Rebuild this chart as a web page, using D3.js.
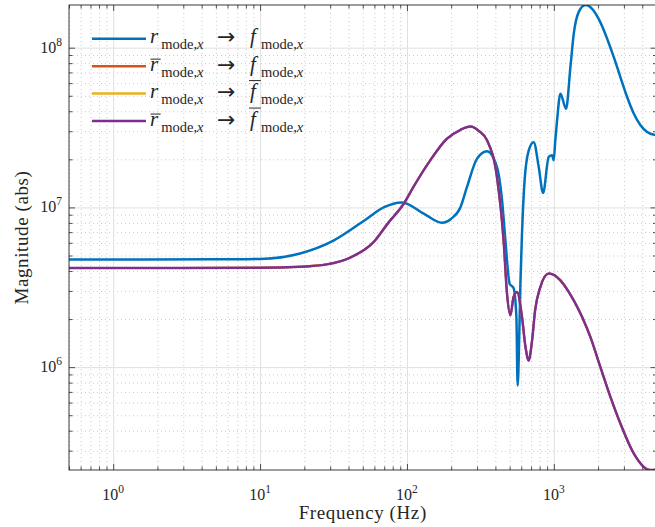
<!DOCTYPE html>
<html>
<head>
    <title>Magnitude plot</title>
    <style>
        body { margin: 0; background: #fff; }
        text { font-family: "Liberation Serif", "DejaVu Serif", serif; fill: #262626; }
    </style>
    <script src="https://d3js.org/d3.v7.min.js"></script>
</head>
<body>
<script type="text/javascript">

    // r -> f (blue)
    var freqBlue = [0.5, 5, 10, 18.7, 31.6, 53.4, 69.3, 92.5, 130, 173, 200, 231, 256, 300, 351, 410, 444, 468, 500, 532, 556, 567, 582, 592, 607, 630, 674, 729, 789, 845, 923, 973, 998, 1023, 1052, 1109, 1211, 1297, 1366, 1476, 1641, 1823, 2023, 2559, 2838, 3155, 3499, 3890, 4315, 5000];
    var magBlue = [4.72e6, 4.73e6, 4.76e6, 5.15e6, 6.2e6, 8.5e6, 1.0e7, 1.075e7, 9.14e6, 8.02e6, 8.5e6, 1.0e7, 1.34e7, 2.02e7, 2.25e7, 1.79e7, 1.11e7, 6.2e6, 3.33e6, 3.13e6, 2.06e6, 7.67e5, 1.62e6, 3.33e6, 6.84e6, 1.41e7, 2.27e7, 2.56e7, 1.79e7, 1.23e7, 2.07e7, 2.12e7, 1.97e7, 2.63e7, 3.51e7, 5.15e7, 4.15e7, 7.57e7, 1.22e8, 1.67e8, 1.85e8, 1.75e8, 1.51e8, 8.73e7, 6.55e7, 4.91e7, 3.87e7, 3.27e7, 2.97e7, 2.83e7];

    // rbar -> fbar (purple)
    var freqPurple = [0.5, 10, 18.7, 28.5, 41.1, 59, 75, 94.8, 111, 144, 187, 230, 270, 310, 351, 410, 455, 480, 506, 532, 562, 607, 641, 674, 711, 745, 809, 923, 1052, 1366, 1775, 2075, 2431, 2838, 3508, 3993, 4406, 4700, 5000];
    var magPurple = [4.17e6, 4.19e6, 4.25e6, 4.4e6, 4.85e6, 6.04e6, 8.06e6, 1.05e7, 1.35e7, 1.97e7, 2.69e7, 3.05e7, 3.21e7, 3.0e7, 2.63e7, 1.55e7, 6.2e6, 2.88e6, 2.11e6, 2.75e6, 2.95e6, 2.06e6, 1.34e6, 1.10e6, 1.47e6, 2.26e6, 3.17e6, 3.85e6, 3.66e6, 2.62e6, 1.54e6, 1.0e6, 6.49e5, 4.44e5, 2.87e5, 2.43e5, 2.28e5, 2.27e5, 2.28e5];

    // the two cross terms sit exactly under the purple curve
    var magOrange = magPurple;
    var magYellow = magPurple;

    var xTickValues = [1, 10, 100, 1000];
    var xTickExp = ['0', '1', '2', '3'];
    var yTickValues = [1e6, 1e7, 1e8];
    var yTickExp = ['6', '7', '8'];

    var legendBars = [[false, false], [true, false], [false, true], [true, true]];

    var series = [
        {freq: freqBlue, mag: magBlue, color: '#0072bd', w: 2.5},
        {freq: freqPurple, mag: magOrange, color: '#d95319', w: 2},
        {freq: freqPurple, mag: magYellow, color: '#edb120', w: 2},
        {freq: freqPurple, mag: magPurple, color: '#7e2f8e', w: 2.5}
    ];

    var W = 655, H = 527;
    var plotL = 69, plotR = 656.5, plotT = 5, plotB = 470;

    var x = d3.scaleLog().domain([0.5, 5000]).range([plotL, plotR]);
    var y = d3.scaleLog().domain([2.27e5, 1.85e8]).range([plotB, plotT]);

    var svg = d3.select('body')
                    .append('svg')
                    .attr('width', W)
                    .attr('height', H);

    svg.append('clipPath').attr('id', 'clip')
        .append('rect')
        .attr('x', plotL).attr('y', plotT)
        .attr('width', plotR - plotL).attr('height', plotB - plotT);

    var xMinor = x.ticks().filter(function(v) { return xTickValues.indexOf(v) < 0; });
    var yMinor = y.ticks().filter(function(v) { return yTickValues.indexOf(v) < 0; });

    // minor grid (dotted) then major grid
    var grid = svg.append('g');
    grid.append('g')
        .attr('class', 'minor')
        .attr('transform', 'translate(0,' + plotB + ')')
        .call(d3.axisBottom(x).tickValues(xMinor).tickSize(-(plotB - plotT)).tickFormat(''));
    grid.append('g')
        .attr('class', 'minor')
        .attr('transform', 'translate(' + plotL + ',0)')
        .call(d3.axisLeft(y).tickValues(yMinor).tickSize(-(plotR - plotL)).tickFormat(''));
    grid.append('g')
        .attr('class', 'major')
        .attr('transform', 'translate(0,' + plotB + ')')
        .call(d3.axisBottom(x).tickValues(xTickValues).tickSize(-(plotB - plotT)).tickFormat(''));
    grid.append('g')
        .attr('class', 'major')
        .attr('transform', 'translate(' + plotL + ',0)')
        .call(d3.axisLeft(y).tickValues(yTickValues).tickSize(-(plotR - plotL)).tickFormat(''));
    grid.selectAll('.domain').remove();
    grid.selectAll('.minor line').attr('stroke', '#bcbcbc').attr('stroke-width', 0.8).attr('stroke-dasharray', '1,3');
    grid.selectAll('.major line').attr('stroke', '#e0e0e0').attr('stroke-width', 1);

    // curves
    var line = d3.line()
        .x(function(d) { return x(d[0]); })
        .y(function(d) { return y(d[1]); })
        .curve(d3.curveMonotoneX);

    svg.append('g').attr('clip-path', 'url(#clip)')
        .selectAll('path')
        .data(series)
        .enter()
        .append('path')
        .attr('d', function(s) { return line(d3.zip(s.freq, s.mag)); })
        .attr('fill', 'none')
        .attr('stroke', function(s) { return s.color; })
        .attr('stroke-width', function(s) { return s.w; })
        .attr('stroke-linejoin', 'round');

    // ticks inward on all four sides
    function ticks(axis, tr, vals, len) {
        var g = svg.append('g').attr('transform', tr)
            .call(axis.tickValues(vals).tickSize(len).tickSizeOuter(0).tickFormat(''));
        g.selectAll('line').attr('stroke', '#262626').attr('stroke-width', 0.8);
        g.select('.domain').remove();
    }
    ticks(d3.axisBottom(x), 'translate(0,' + plotB + ')', xTickValues, -6);
    ticks(d3.axisBottom(x), 'translate(0,' + plotB + ')', xMinor, -3.5);
    ticks(d3.axisTop(x), 'translate(0,' + plotT + ')', xTickValues, -6);
    ticks(d3.axisTop(x), 'translate(0,' + plotT + ')', xMinor, -3.5);
    ticks(d3.axisLeft(y), 'translate(' + plotL + ',0)', yTickValues, -6);
    ticks(d3.axisLeft(y), 'translate(' + plotL + ',0)', yMinor, -3.5);
    ticks(d3.axisRight(y), 'translate(' + plotR + ',0)', yTickValues, -6);
    ticks(d3.axisRight(y), 'translate(' + plotR + ',0)', yMinor, -3.5);

    svg.append('rect')
        .attr('x', plotL).attr('y', plotT)
        .attr('width', plotR - plotL).attr('height', plotB - plotT)
        .attr('fill', 'none').attr('stroke', '#262626').attr('stroke-width', 0.9);

    // tick labels 10^n
    xTickValues.forEach(function(v, i) {
        var t = svg.append('text')
            .attr('x', x(v)).attr('y', 500)
            .attr('text-anchor', 'middle')
            .style('font-size', '16px');
        t.append('tspan').text('10');
        t.append('tspan').attr('dy', -7).style('font-size', '11.5px').text(xTickExp[i]);
    });
    yTickValues.forEach(function(v, i) {
        var t = svg.append('text')
            .attr('x', 62).attr('y', y(v) + 5)
            .attr('text-anchor', 'end')
            .style('font-size', '16px');
        t.append('tspan').text('10');
        t.append('tspan').attr('dy', -7).style('font-size', '11.5px').text(yTickExp[i]);
    });

    // axis labels
    svg.append('text')
        .attr('x', (plotL + plotR) / 2).attr('y', 519)
        .attr('text-anchor', 'middle')
        .style('font-size', '19px').style('letter-spacing', '0.6px')
        .text('Frequency (Hz)');
    svg.append('text')
        .attr('transform', 'translate(28,' + ((plotT + plotB) / 2) + ') rotate(-90)')
        .attr('text-anchor', 'middle')
        .style('font-size', '19px').style('letter-spacing', '0.6px')
        .text('Magnitude (abs)');

    // legend
    var leg = svg.append('g');
    series.forEach(function(s, i) {
        var ly = 38.7 + i * 27.45;
        var base = ly + 4.5;
        leg.append('line')
            .attr('x1', 92).attr('x2', 146).attr('y1', ly).attr('y2', ly)
            .attr('stroke', s.color).attr('stroke-width', 2.5);

        var r = leg.append('text').attr('x', 150).attr('y', base)
            .style('font-size', '21px').style('font-style', 'italic').text('r');
        var rw = r.node().getComputedTextLength();
        var sub1 = leg.append('text').attr('x', 150 + rw + 3).attr('y', base + 6)
            .style('font-size', '14.5px');
        sub1.append('tspan').text('mode,');
        sub1.append('tspan').style('font-style', 'italic').text('x');

        leg.append('text').attr('x', 217).attr('y', base + 1)
            .style('font-family', '"DejaVu Sans", sans-serif')
            .style('font-size', '22px').text('\u2192');

        var f = leg.append('text').attr('x', 250).attr('y', base)
            .style('font-size', '21px').style('font-style', 'italic').text('f');
        var fw = f.node().getComputedTextLength();
        var sub2 = leg.append('text').attr('x', 261).attr('y', base + 6)
            .style('font-size', '14.5px');
        sub2.append('tspan').text('mode,');
        sub2.append('tspan').style('font-style', 'italic').text('x');

        if (legendBars[i][0]) {
            leg.append('line').attr('x1', 150.5).attr('x2', 150 + rw + 2.5)
                .attr('y1', base - 11.5).attr('y2', base - 11.5)
                .attr('stroke', '#262626').attr('stroke-width', 1);
        }
        if (legendBars[i][1]) {
            leg.append('line').attr('x1', 249).attr('x2', 250 + fw + 5)
                .attr('y1', base - 17.5).attr('y2', base - 17.5)
                .attr('stroke', '#262626').attr('stroke-width', 1);
        }
    });

</script>
</body>
</html>
